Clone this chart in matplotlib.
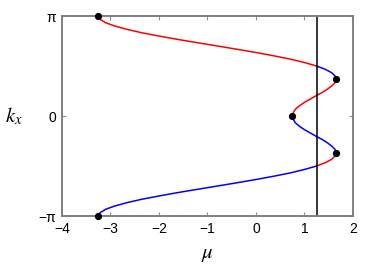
import numpy as np
import matplotlib
matplotlib.use('Agg')
from matplotlib import pyplot as plt

plt.rcParams['font.family'] = ['Liberation Sans', 'DejaVu Sans']
plt.rcParams['mathtext.fontset'] = 'stix'

# points read along the upper half of the curve (k_x >= 0), k_x in degrees
kx_deg = [0, 6, 12, 18, 24, 30, 36, 42, 48, 54, 60, 66.42, 72, 78, 84, 90,
          96, 102, 108, 114, 120, 126, 132, 138, 144, 150, 156, 162, 168,
          174, 177, 180]
mu_vals = [0.75, 0.77, 0.81, 0.89, 0.99, 1.11, 1.23, 1.36, 1.47, 1.56, 1.63,
           1.65, 1.63, 1.56, 1.43, 1.25, 1.01, 0.73, 0.39, 0.02, -0.38,
           -0.79, -1.21, -1.62, -2.00, -2.36, -2.66, -2.91, -3.10, -3.21,
           -3.24, -3.25]

# marked points (mu, k_x in degrees)
dot_mu = [-3.25, 1.65, 0.75, 1.65, -3.25]
dot_kx = [180, 66.42, 0, -66.42, -180]

mu_line = 1.25
k_turn = 66.42  # band maximum
k_cross = 90    # where the band meets mu_line

kx = np.deg2rad(np.array(kx_deg))
mu = np.array(mu_vals)
kd = np.array(kx_deg)

red = '#ff0000'
blue = '#0000ff'

fig = plt.figure(figsize=(3.82, 2.67), dpi=100)
ax = fig.add_axes([0.162, 0.191, 0.762, 0.749])

# upper half
m = kd >= k_cross
ax.plot(mu[m], kx[m], color=red, lw=1.1)
m = (kd >= k_turn) & (kd <= k_cross)
ax.plot(mu[m], kx[m], color=blue, lw=1.1)
m = kd <= k_turn
ax.plot(mu[m], kx[m], color=red, lw=1.1)
# lower half (mirror)
m = kd <= k_turn
ax.plot(mu[m], -kx[m], color=blue, lw=1.1)
m = (kd >= k_turn) & (kd <= k_cross)
ax.plot(mu[m], -kx[m], color=red, lw=1.1)
m = kd >= k_cross
ax.plot(mu[m], -kx[m], color=blue, lw=1.1)

ax.axvline(mu_line, color='black', lw=1.1)
ax.plot(dot_mu, np.deg2rad(dot_kx), 'o', color='black', ms=4.2,
        linestyle='none', clip_on=False, zorder=5)

ax.set_xlim(-4, 2)
ax.set_ylim(-np.pi, np.pi)
ax.set_xticks([-4, -3, -2, -1, 0, 1, 2])
ax.set_xticklabels(['\u22124', '\u22123', '\u22122', '\u22121', '0', '1', '2'])
ax.set_yticks([-np.pi, 0, np.pi])
ax.set_yticklabels(['\u2212\u03c0', '0', '\u03c0'])
ax.tick_params(direction='in', length=3, width=0.8, color='#909090',
               top=True, right=True, labelsize=10, pad=4)
for s in ax.spines.values():
    s.set_color('#808080')
    s.set_linewidth(1.4)

ax.set_xlabel(r'$\mu$', fontsize=15, labelpad=7)
ax.set_ylabel(r'$k_x$', fontsize=15, rotation=0, labelpad=18, va='center')

fig.savefig('out.png', dpi=100)
